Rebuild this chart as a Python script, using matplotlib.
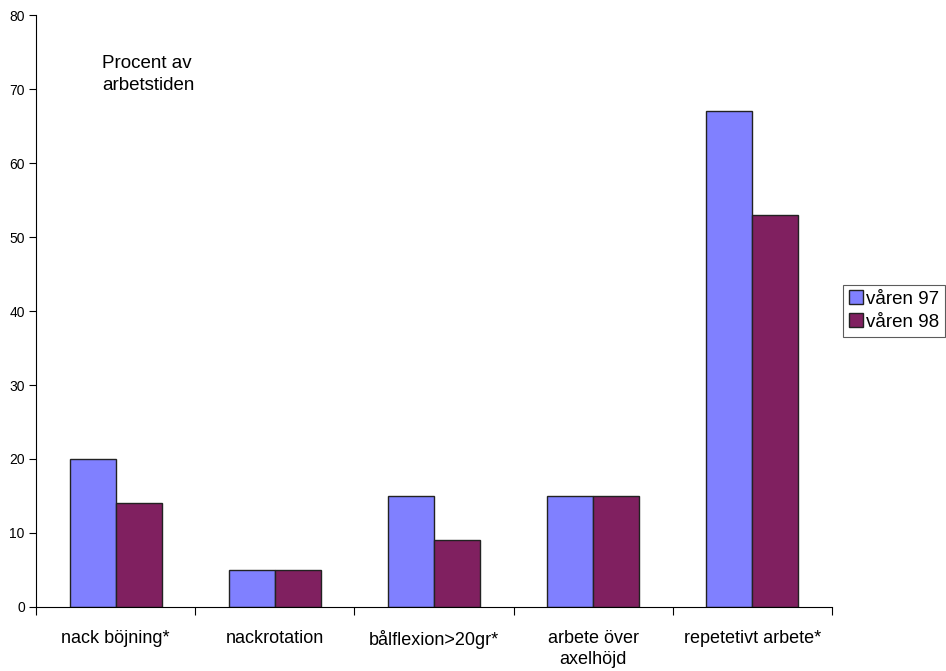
import numpy as np
import matplotlib.pyplot as plt

plt.rcParams['font.family'] = ['Liberation Sans', 'DejaVu Sans']

categories = ['nack böjning*', 'nackrotation', 'bålflexion>20gr*',
              'arbete över\naxelhöjd', 'repetetivt arbete*']
varen97 = [20, 5, 15, 15, 67]
varen98 = [14, 5, 9, 15, 53]

fig = plt.figure(figsize=(9.46, 6.71), dpi=100)
ax = fig.add_axes([0.038, 0.0954, 0.8415, 0.8822])

x = np.arange(len(categories))
w = 0.289
ax.bar(x - w / 2, varen97, w, color='#8080FF', edgecolor='#222222', linewidth=1, label='våren 97')
ax.bar(x + w / 2, varen98, w, color='#802060', edgecolor='#222222', linewidth=1, label='våren 98')

ax.set_xlim(-0.5, len(categories) - 0.5)
ax.set_ylim(0, 80)
ax.set_yticks(range(0, 81, 10))
ax.tick_params(axis='y', labelsize=10, length=5, direction='out', pad=3)

# group boundaries carry the tick marks, labels sit in the middle
ax.set_xticks(np.arange(-0.5, len(categories)), minor=False)
ax.set_xticklabels([])
ax.set_xticks(x, minor=True)
ax.set_xticklabels(categories, minor=True, fontsize=13, linespacing=1.35)
ax.tick_params(axis='x', which='major', length=6, direction='out')
ax.tick_params(axis='x', which='minor', length=0, pad=16.5)

ax.spines['top'].set_visible(False)
ax.spines['right'].set_visible(False)

ax.text(0.108, 0.918, 'Procent av\narbetstiden', transform=fig.transFigure,
        fontsize=13.5, va='top', ha='left', linespacing=1.35)

leg = ax.legend(loc='center left', bbox_to_anchor=(0.891, 0.537), bbox_transform=fig.transFigure,
                fontsize=13.5, frameon=True, fancybox=False, edgecolor='#333333',
                handlelength=0.75, handleheight=0.75, handletextpad=0.2,
                borderpad=0.3, labelspacing=0.3, borderaxespad=0)
leg.get_frame().set_linewidth(0.8)

fig.savefig('out.png', dpi=100)
